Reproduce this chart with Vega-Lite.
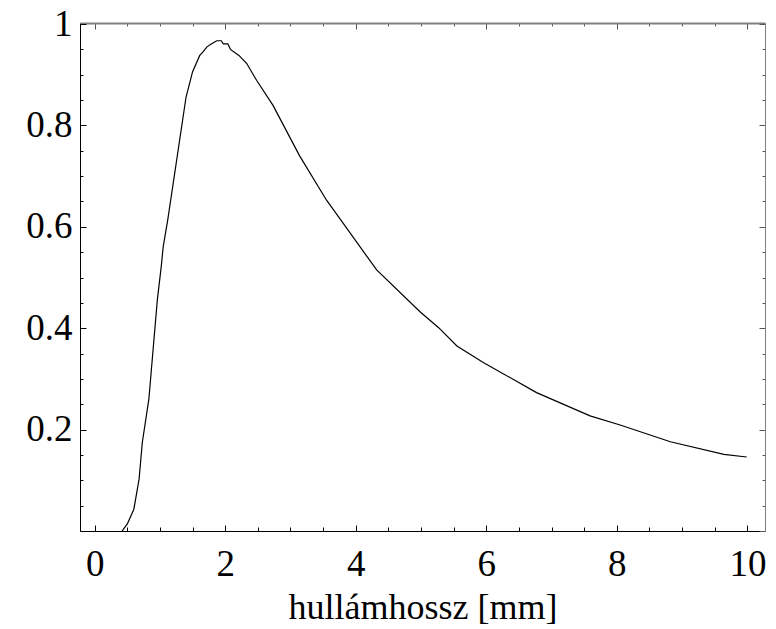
{
  "$schema": "https://vega.github.io/schema/vega-lite/v6.json",
  "autosize": {"type": "none"},
  "padding": {"left": 80, "top": 23, "right": 11, "bottom": 98},
  "width": 685,
  "height": 508,
  "background": "white",
  "config": {
    "view": {"stroke": null},
    "font": "Liberation Serif"
  },
  "data": {
    "values": [
      {"x": 0.42, "y": 0.0},
      {"x": 0.5, "y": 0.014},
      {"x": 0.6, "y": 0.043},
      {"x": 0.68, "y": 0.102},
      {"x": 0.73, "y": 0.175},
      {"x": 0.83, "y": 0.26},
      {"x": 0.895, "y": 0.358},
      {"x": 0.96, "y": 0.456},
      {"x": 1.02, "y": 0.522},
      {"x": 1.05, "y": 0.561},
      {"x": 1.12, "y": 0.614},
      {"x": 1.4, "y": 0.856},
      {"x": 1.5, "y": 0.906},
      {"x": 1.61, "y": 0.938},
      {"x": 1.66, "y": 0.945},
      {"x": 1.72, "y": 0.955},
      {"x": 1.78, "y": 0.96},
      {"x": 1.87, "y": 0.967},
      {"x": 1.94, "y": 0.967},
      {"x": 1.97, "y": 0.961},
      {"x": 2.04, "y": 0.961},
      {"x": 2.08, "y": 0.95},
      {"x": 2.21, "y": 0.938},
      {"x": 2.33, "y": 0.922},
      {"x": 2.48, "y": 0.889},
      {"x": 2.73, "y": 0.84},
      {"x": 3.14, "y": 0.74},
      {"x": 3.55, "y": 0.653},
      {"x": 4.32, "y": 0.515},
      {"x": 4.98, "y": 0.433},
      {"x": 5.27, "y": 0.401},
      {"x": 5.55, "y": 0.365},
      {"x": 5.96, "y": 0.332},
      {"x": 6.77, "y": 0.273},
      {"x": 7.59, "y": 0.227},
      {"x": 8.05, "y": 0.209},
      {"x": 8.82, "y": 0.176},
      {"x": 9.64, "y": 0.151},
      {"x": 9.99, "y": 0.146}
    ]
  },
  "layer": [
    {
      "mark": {"type": "line", "color": "black", "strokeWidth": 1.2, "clip": true},
      "encoding": {
        "x": {
          "field": "x", "type": "quantitative",
          "scale": {"domain": [-0.225, 10.27], "nice": false, "zero": false},
          "axis": {
            "orient": "bottom",
            "values": [0,0.5,1,1.5,2,2.5,3,3.5,4,4.5,5,5.5,6,6.5,7,7.5,8,8.5,9,9.5,10],
            "labelExpr": "datum.value % 2 === 0 ? format(datum.value, 'd') : ''",
            "labelOverlap": false,
            "labelFlush": false,
            "labelFont": "Liberation Serif",
            "labelFontSize": 37,
            "labelColor": "black",
            "labelPadding": 21,
            "domainColor": "black",
            "domainWidth": 1,
            "tickColor": "black",
            "tickWidth": 1,
            "tickSize": {"condition": {"test": "datum.value % 2 === 0", "value": -6}, "value": -4},
            "grid": false,
            "title": "hullámhossz [mm]",
            "titleFont": "Liberation Serif",
            "titleFontSize": 36,
            "titleFontWeight": "normal",
            "titleColor": "black",
            "titlePadding": 6
          }
        },
        "y": {
          "field": "y", "type": "quantitative",
          "scale": {"domain": [0, 1.002], "nice": false, "zero": false},
          "axis": {
            "orient": "left",
            "values": [0,0.05,0.1,0.15,0.2,0.25,0.3,0.35,0.4,0.45,0.5,0.55,0.6,0.65,0.7,0.75,0.8,0.85,0.9,0.95,1],
            "labelExpr": "(round(datum.value * 100) % 20 === 0 && datum.value > 0) ? format(datum.value, '.1~f') : ''",
            "labelOverlap": false,
            "labelFlush": false,
            "labelFont": "Liberation Serif",
            "labelFontSize": 37,
            "labelColor": "black",
            "labelPadding": 14,
            "domainColor": "black",
            "domainWidth": 1,
            "tickColor": "black",
            "tickWidth": 1,
            "tickSize": {"condition": {"test": "round(datum.value * 100) % 20 === 0", "value": -6}, "value": -3},
            "grid": false,
            "title": null
          }
        }
      }
    },
    {
      "mark": {"type": "line", "strokeOpacity": 0},
      "encoding": {
        "x": {
          "field": "x", "type": "quantitative",
          "axis": {
            "orient": "top",
            "values": [0,0.5,1,1.5,2,2.5,3,3.5,4,4.5,5,5.5,6,6.5,7,7.5,8,8.5,9,9.5,10],
            "labels": false,
            "domainColor": "#7f7f7f",
            "domainWidth": 2,
            "tickColor": "#555555",
            "tickWidth": 1,
            "tickSize": {"condition": {"test": "datum.value % 2 === 0", "value": -6}, "value": -3},
            "grid": false,
            "title": null
          }
        },
        "y": {
          "field": "y", "type": "quantitative",
          "axis": {
            "orient": "right",
            "values": [0,0.05,0.1,0.15,0.2,0.25,0.3,0.35,0.4,0.45,0.5,0.55,0.6,0.65,0.7,0.75,0.8,0.85,0.9,0.95,1],
            "labels": false,
            "domainColor": "#7f7f7f",
            "domainWidth": 1,
            "tickColor": "#555555",
            "tickWidth": 1,
            "tickSize": {"condition": {"test": "round(datum.value * 100) % 20 === 0", "value": -6}, "value": -3},
            "grid": false,
            "title": null
          }
        }
      }
    }
  ],
  "resolve": {"axis": {"x": "independent", "y": "independent"}}
}
